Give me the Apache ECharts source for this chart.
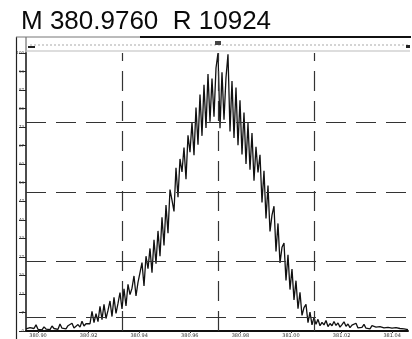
<!DOCTYPE html>
<html>
<head>
<meta charset="utf-8">
<script src="https://cdn.jsdelivr.net/npm/echarts@6/dist/echarts.min.js"></script>
<style>
  html, body { margin: 0; padding: 0; background: #fff; }
  #chart { width: 412px; height: 339px; }
</style>
</head>
<body>
<div id="chart"></div>
<script>
// spectrum header
var titleText = 'M 380.9760  R 10924'

// m/z of the first sample and spacing between samples
var mzStart = 380.89526
var mzStep = 0.0007905
var mzMin = 380.89526
var mzMax = 381.04625

// x tick labels (m/z)
var xTicks = [380.90, 380.92, 380.94, 380.96, 380.98, 381.00, 381.02, 381.04]

// relative intensity (%), one per sample
var intensity = [
  0.8, 0.3, 1.2, 0.5, 0.9, 2.2, 0.6, 1.0, 0.4, 1.5, 0.7, 1.1, 0.5, 1.8, 0.9, 1.3,
  0.6, 2.5, 1.0, 1.4, 0.8, 1.9, 1.2, 2.8, 1.1, 1.6, 2.3, 1.4, 3.5, 1.8, 2.6, 1.9,
  2.6, 7.1, 3.0, 6.2, 3.4, 8.9, 4.1, 9.6, 4.5, 7.4, 10.8, 5.2, 12.1, 6.3, 9.9, 13.8,
  7.9, 15.2, 9.0, 16.8, 13.1, 15.4, 19.8, 12.6, 17.5, 21.0, 24.6, 16.2, 26.9, 22.4, 29.7,
  21.0, 32.8, 24.2, 36.0, 26.9, 40.9, 30.8, 45.3, 35.2, 50.9, 47.1,
  43.0, 58.7, 48.1, 61.9, 57.2, 66.0, 54.6, 70.4, 64.3, 75.1, 63.2, 80.4,
  67.0, 85.1, 70.2, 88.6, 73.0, 92.4, 75.3, 90.8, 77.1, 94.6,
  100, 72.9, 93.1, 76.0, 91.2, 99.5, 71.8, 89.9, 69.4, 87.6, 66.8, 83.0,
  63.5, 78.6, 60.1, 74.8, 58.0,
  71.2, 54.1, 66.3, 57.0, 63.4, 46.2,
  57.6, 40.5, 52.3, 35.8, 41.7,
  44.9, 28.6, 38.7, 24.5, 30.1,
  31.6, 18.2, 27.4, 14.9, 22.3, 11.2,
  18.1, 8.0, 13.9, 5.6, 8.4,
  9.6, 3.0, 6.8, 2.2, 4.9,
  2.4, 4.2, 1.9, 3.1, 2.2, 3.8, 1.6, 2.7, 1.9, 3.4, 2.0, 2.9, 1.4, 2.3, 3.3, 1.7,
  2.5, 1.2, 2.1, 1.5, 2.8, 1.1, 1.8, 1.3, 2.4, 1.0, 1.6, 0.8, 1.9, 1.2, 1.4, 0.7,
  1.6, 0.9, 1.1, 0.6, 1.3, 0.8, 1.0, 0.5, 1.2, 0.7, 0.9, 0.4, 0.8, 0.6, 0.5
]

// dashed guide lines
var guideLevels = [5, 25, 50, 75]
var guideMz = [380.93321, 380.97116, 381.00911]

// y ruler ticks, 15 steps over 0..100
var yTicks = [0, 6.67, 13.33, 20, 26.67, 33.33, 40, 46.67, 53.33, 60, 66.67, 73.33, 80, 86.67, 93.33, 100]

var points = intensity.map(function (v, i) {
  return [mzStart + i * mzStep, v]
})

var dash = [20, 10]
var guides = []
guideLevels.forEach(function (lv) { guides.push({ yAxis: lv }) })
guideMz.forEach(function (m) { guides.push({ xAxis: m }) })

var option = {
  backgroundColor: '#fff',
  animation: false,
  title: {
    text: titleText,
    left: 16,
    top: 4,
    textStyle: {
      fontFamily: 'Liberation Sans',
      fontSize: 26,
      fontWeight: 'normal',
      color: '#0a0a0a'
    }
  },
  grid: { left: 26, right: 4, top: 53, bottom: 8 },
  xAxis: {
    type: 'value',
    min: mzMin,
    max: mzMax,
    axisLine: { lineStyle: { color: '#111', width: 2 } },
    axisTick: { customValues: xTicks, length: 2, lineStyle: { color: '#333' } },
    axisLabel: {
      customValues: xTicks,
      fontSize: 5,
      margin: 2,
      color: '#333',
      fontFamily: 'DejaVu Sans',
      formatter: function (v) { return v.toFixed(2) }
    },
    splitLine: { show: false }
  },
  yAxis: {
    type: 'value',
    min: 0,
    max: 100,
    axisLine: { lineStyle: { color: '#111', width: 1.5 } },
    axisTick: { customValues: yTicks, length: 7, lineStyle: { color: '#222', width: 1 } },
    axisLabel: {
      customValues: yTicks,
      fontSize: 4,
      margin: 2,
      color: '#444',
      fontFamily: 'DejaVu Sans',
      formatter: function (v) { return Math.round(v) }
    },
    splitLine: { show: false }
  },
  graphic: [
    // outer ruler frame and header band
    { type: 'line', shape: { x1: 16.5, y1: 37, x2: 16.5, y2: 339 }, style: { stroke: '#222', lineWidth: 1.2 } },
    { type: 'line', shape: { x1: 26, y1: 37, x2: 26, y2: 53 }, style: { stroke: '#555', lineWidth: 1 } },
    { type: 'line', shape: { x1: 16, y1: 37, x2: 140, y2: 37 }, style: { stroke: '#777', lineWidth: 1 } },
    { type: 'line', shape: { x1: 140, y1: 37, x2: 411, y2: 37 }, style: { stroke: '#111', lineWidth: 2 } },
    { type: 'line', shape: { x1: 30, y1: 45, x2: 410, y2: 45 }, style: { stroke: '#aaa', lineWidth: 1, lineDash: [2, 2] } },
    { type: 'line', shape: { x1: 26, y1: 51, x2: 410, y2: 51 }, style: { stroke: '#bbb', lineWidth: 1 } },
    { type: 'rect', shape: { x: 215, y: 41, width: 6, height: 4 }, style: { fill: '#444' } },
    { type: 'rect', shape: { x: 28, y: 46, width: 7, height: 2 }, style: { fill: '#222' } },
    { type: 'rect', shape: { x: 406, y: 45, width: 4, height: 3 }, style: { fill: '#222' } }
  ],
  series: [
    {
      type: 'line',
      data: points,
      showSymbol: false,
      symbol: 'none',
      sampling: false,
      lineStyle: { color: '#111', width: 1.3 },
      markLine: {
        silent: true,
        symbol: 'none',
        precision: 5,
        label: { show: false },
        lineStyle: { color: '#333', width: 1.2, type: dash },
        data: guides
      },
      z: 3
    }
  ]
}

var myChart = echarts.init(document.getElementById('chart'))
myChart.setOption(option)
</script>
</body>
</html>
